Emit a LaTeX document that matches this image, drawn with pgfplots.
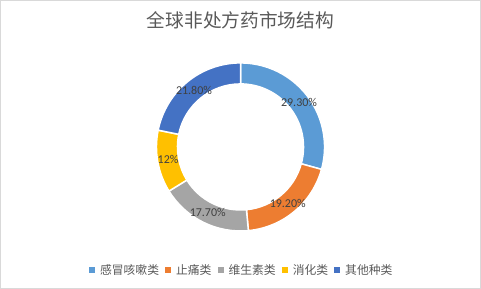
\documentclass[border=0pt]{standalone}
\usepackage{pgfplots}
\pgfplotsset{compat=1.18}
\usepackage{pgfplotstable}
\usepackage{fontspec}
\setmainfont{Carlito}
\newfontfamily\cjk{Noto Sans CJK SC}
\definecolor{c1}{HTML}{5B9BD5}
\definecolor{c2}{HTML}{ED7D31}
\definecolor{c3}{HTML}{A5A5A5}
\definecolor{c4}{HTML}{FFC000}
\definecolor{c5}{HTML}{4472C4}
\definecolor{titlegray}{HTML}{595959}
\definecolor{labelgray}{HTML}{404040}
\definecolor{bordergray}{HTML}{D9D9D9}
\pgfplotstableread{
name pct col
感冒咳嗽类 29.30 c1
止痛类 19.20 c2
维生素类 17.70 c3
消化类 12 c4
其他种类 21.80 c5
}\shares
\begin{document}
\begin{tikzpicture}
\begin{axis}[
  scale only axis, width=481pt, height=289pt,
  xmin=0, xmax=481, ymin=0, ymax=289,
  hide axis, clip=false,
  legend columns=-1,
  legend style={at={(axis cs:242,19)}, anchor=center, draw=none, fill=none,
    font=\cjk\fontsize{11.8pt}{14pt}\selectfont, text=titlegray,
    /tikz/every even column/.append style={column sep=3.5pt},
    nodes={inner xsep=2.5pt, inner ysep=2pt}},
  legend image code/.code={\fill[#1, draw=none] (0pt,-3pt) rectangle (6pt,3pt); \path[draw=none, fill=none] (0pt,-3pt) rectangle (8.5pt,3pt);},
]
\draw[bordergray, line width=0.75pt] (axis cs:0.5,0.5) rectangle (axis cs:480.5,288.5);
\node[text=titlegray, font=\cjk\fontsize{18.7pt}{22pt}\selectfont] at (axis cs:240.5,268.5) {全球非处方药市场结构};
\def\cum{0}
\pgfplotsforeachungrouped \i in {0,...,4}{%
  \pgfplotstablegetelem{\i}{pct}\of\shares \let\v\pgfplotsretval
  \pgfplotstablegetelem{\i}{col}\of\shares \let\c\pgfplotsretval
  \pgfplotstablegetelem{\i}{name}\of\shares \let\n\pgfplotsretval
  \pgfmathsetmacro\aone{90-3.6*\cum}%
  \pgfmathsetmacro\atwo{90-3.6*(\cum+\v)}%
  \pgfmathsetmacro\amid{(\aone+\atwo)/2}%
  \edef\doit{%
    \noexpand\fill[\c, draw=white, line width=1.5pt] (axis cs:240.5,142) ++(\aone:84pt)
      arc[start angle=\aone, end angle=\atwo, radius=84pt] -- ++(\atwo:-21pt)
      arc[start angle=\atwo, end angle=\aone, radius=63pt] -- cycle;
    \noexpand\path (axis cs:240.5,142) ++(\amid:73.5pt) node[text=labelgray, font=\noexpand\fontsize{12pt}{14pt}\noexpand\selectfont] {\v\noexpand\%};
    \noexpand\addlegendimage{fill=\c}
    \noexpand\addlegendentry{\n}
  }%
  \doit
  \pgfmathsetmacro\cum{\cum+\v}%
}
\end{axis}
\end{tikzpicture}
\end{document}
